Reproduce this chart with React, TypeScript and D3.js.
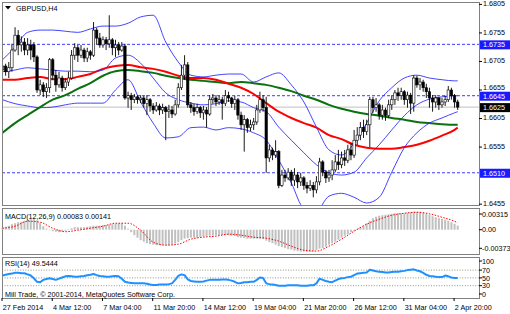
import React from 'react';
import * as d3 from 'd3';

// GBPUSD H4 bars, 27 Feb .. 3 Apr 2014
const barOpen = [
  1.6690, 1.6697, 1.6687, 1.6694, 1.6725, 1.6751, 1.6734, 1.6739, 1.6725, 1.6734,
  1.6734, 1.6713, 1.6655, 1.6664, 1.6652, 1.6659, 1.6708, 1.6681, 1.6664, 1.6676,
  1.6659, 1.6669, 1.6676, 1.6716, 1.6729, 1.6716, 1.6725, 1.6711, 1.6722, 1.6716,
  1.6760, 1.6746, 1.6734, 1.6743, 1.6736, 1.6743, 1.6729, 1.6734, 1.6725, 1.6732,
  1.6641, 1.6645, 1.6638, 1.6643, 1.6638, 1.6641, 1.6631, 1.6638, 1.6627, 1.6620,
  1.6627, 1.6620, 1.6624, 1.6617, 1.6620, 1.6613, 1.6629, 1.6659, 1.6681, 1.6699,
  1.6629, 1.6624, 1.6617, 1.6624, 1.6615, 1.6620, 1.6613, 1.6638, 1.6641, 1.6634,
  1.6638, 1.6631, 1.6645, 1.6641, 1.6631, 1.6638, 1.6611, 1.6594, 1.6603, 1.6589,
  1.6594, 1.6599, 1.6620, 1.6638, 1.6624, 1.6536, 1.6550, 1.6541, 1.6547, 1.6488,
  1.6506, 1.6501, 1.6511, 1.6497, 1.6506, 1.6494, 1.6501, 1.6488, 1.6483, 1.6488,
  1.6480, 1.6494, 1.6529, 1.6511, 1.6501, 1.6506, 1.6515, 1.6529, 1.6524, 1.6536,
  1.6532, 1.6550, 1.6541, 1.6567, 1.6576, 1.6589, 1.6582, 1.6594, 1.6638, 1.6624,
  1.6629, 1.6611, 1.6620, 1.6610, 1.6629, 1.6638, 1.6650, 1.6645, 1.6652, 1.6638,
  1.6646, 1.6632, 1.6676, 1.6664, 1.6669, 1.6659, 1.6652, 1.6641, 1.6634, 1.6641,
  1.6629, 1.6634, 1.6638, 1.6655, 1.6645, 1.6634,
];
const barHigh = [
  1.6704, 1.6701, 1.6704, 1.6736, 1.6765, 1.6760, 1.6749, 1.6746, 1.6746, 1.6743,
  1.6739, 1.6716, 1.6673, 1.6669, 1.6667, 1.6711, 1.6711, 1.6690, 1.6687, 1.6680,
  1.6676, 1.6687, 1.6725, 1.6737, 1.6734, 1.6734, 1.6729, 1.6729, 1.6725, 1.6774,
  1.6764, 1.6755, 1.6749, 1.6748, 1.6786, 1.6746, 1.6743, 1.6739, 1.6739, 1.6736,
  1.6652, 1.6650, 1.6648, 1.6646, 1.6646, 1.6645, 1.6646, 1.6641, 1.6632, 1.6634,
  1.6631, 1.6631, 1.6627, 1.6629, 1.6627, 1.6638, 1.6667, 1.6699, 1.6716, 1.6704,
  1.6634, 1.6631, 1.6631, 1.6627, 1.6627, 1.6625, 1.6646, 1.6648, 1.6646, 1.6645,
  1.6643, 1.6655, 1.6652, 1.6643, 1.6645, 1.6641, 1.6617, 1.6611, 1.6606, 1.6603,
  1.6606, 1.6629, 1.6652, 1.6646, 1.6643, 1.6559, 1.6554, 1.6567, 1.6550, 1.6515,
  1.6515, 1.6518, 1.6515, 1.6518, 1.6511, 1.6510, 1.6504, 1.6494, 1.6497, 1.6494,
  1.6504, 1.6536, 1.6532, 1.6515, 1.6515, 1.6532, 1.6541, 1.6550, 1.6547, 1.6550,
  1.6559, 1.6562, 1.6585, 1.6590, 1.6599, 1.6603, 1.6603, 1.6643, 1.6643, 1.6641,
  1.6632, 1.6629, 1.6624, 1.6638, 1.6646, 1.6655, 1.6659, 1.6659, 1.6655, 1.6652,
  1.6650, 1.6681, 1.6680, 1.6676, 1.6673, 1.6666, 1.6659, 1.6646, 1.6646, 1.6643,
  1.6641, 1.6645, 1.6662, 1.6659, 1.6648, 1.6638,
];
const barLow = [
  1.6683, 1.6680, 1.6676, 1.6687, 1.6722, 1.6716, 1.6722, 1.6716, 1.6716, 1.6708,
  1.6704, 1.6650, 1.6646, 1.6643, 1.6641, 1.6650, 1.6673, 1.6652, 1.6659, 1.6652,
  1.6655, 1.6662, 1.6673, 1.6708, 1.6704, 1.6711, 1.6704, 1.6704, 1.6708, 1.6713,
  1.6734, 1.6729, 1.6729, 1.6725, 1.6729, 1.6716, 1.6713, 1.6716, 1.6722, 1.6638,
  1.6624, 1.6620, 1.6632, 1.6631, 1.6632, 1.6624, 1.6611, 1.6617, 1.6613, 1.6617,
  1.6611, 1.6613, 1.6567, 1.6606, 1.6606, 1.6610, 1.6624, 1.6655, 1.6673, 1.6624,
  1.6615, 1.6610, 1.6613, 1.6606, 1.6603, 1.6589, 1.6610, 1.6631, 1.6627, 1.6629,
  1.6603, 1.6627, 1.6634, 1.6624, 1.6620, 1.6603, 1.6585, 1.6547, 1.6580, 1.6583,
  1.6585, 1.6594, 1.6615, 1.6617, 1.6510, 1.6529, 1.6532, 1.6536, 1.6483, 1.6485,
  1.6494, 1.6497, 1.6487, 1.6487, 1.6483, 1.6487, 1.6480, 1.6474, 1.6478, 1.6467,
  1.6474, 1.6488, 1.6504, 1.6492, 1.6494, 1.6497, 1.6511, 1.6515, 1.6518, 1.6522,
  1.6527, 1.6532, 1.6536, 1.6559, 1.6567, 1.6571, 1.6576, 1.6555, 1.6615, 1.6617,
  1.6603, 1.6603, 1.6601, 1.6606, 1.6620, 1.6629, 1.6636, 1.6638, 1.6629, 1.6624,
  1.6613, 1.6617, 1.6659, 1.6655, 1.6652, 1.6641, 1.6624, 1.6617, 1.6624, 1.6620,
  1.6624, 1.6627, 1.6634, 1.6638, 1.6624, 1.6620,
];
const barClose = [
  1.6697, 1.6687, 1.6694, 1.6725, 1.6751, 1.6734, 1.6739, 1.6725, 1.6734, 1.6725,
  1.6713, 1.6655, 1.6664, 1.6652, 1.6659, 1.6708, 1.6681, 1.6664, 1.6676, 1.6659,
  1.6669, 1.6676, 1.6716, 1.6729, 1.6716, 1.6725, 1.6711, 1.6722, 1.6716, 1.6760,
  1.6746, 1.6734, 1.6743, 1.6736, 1.6743, 1.6729, 1.6734, 1.6725, 1.6732, 1.6641,
  1.6645, 1.6638, 1.6643, 1.6638, 1.6641, 1.6631, 1.6638, 1.6627, 1.6620, 1.6627,
  1.6620, 1.6624, 1.6617, 1.6620, 1.6613, 1.6629, 1.6659, 1.6681, 1.6699, 1.6629,
  1.6624, 1.6617, 1.6624, 1.6615, 1.6620, 1.6613, 1.6638, 1.6641, 1.6634, 1.6638,
  1.6631, 1.6645, 1.6641, 1.6631, 1.6638, 1.6611, 1.6594, 1.6603, 1.6589, 1.6594,
  1.6599, 1.6620, 1.6638, 1.6624, 1.6536, 1.6550, 1.6541, 1.6547, 1.6488, 1.6506,
  1.6501, 1.6511, 1.6497, 1.6506, 1.6494, 1.6501, 1.6488, 1.6483, 1.6488, 1.6480,
  1.6494, 1.6529, 1.6511, 1.6501, 1.6506, 1.6515, 1.6529, 1.6524, 1.6536, 1.6532,
  1.6550, 1.6541, 1.6567, 1.6576, 1.6589, 1.6582, 1.6594, 1.6638, 1.6624, 1.6629,
  1.6611, 1.6620, 1.6610, 1.6629, 1.6638, 1.6650, 1.6645, 1.6652, 1.6638, 1.6646,
  1.6632, 1.6676, 1.6664, 1.6669, 1.6659, 1.6652, 1.6641, 1.6634, 1.6641, 1.6629,
  1.6634, 1.6638, 1.6655, 1.6645, 1.6634, 1.6625,
];

// indicator lines, read every 4th bar
const lineIdx = [
  0, 4, 8, 12, 16, 20, 24, 28, 32, 36, 40, 44, 48, 52, 56, 60, 64, 68, 72,
  76, 80, 84, 88, 92, 96, 100, 104, 108, 112, 116, 120, 124, 128, 132, 136, 140, 144, 145,
];
const bbUpper = [
  1.6708, 1.6730, 1.6756, 1.6760, 1.6760, 1.6758, 1.6756, 1.6762, 1.6767, 1.6767,
  1.6772, 1.6783, 1.6786, 1.6739, 1.6704, 1.6681, 1.6678, 1.6681, 1.6683, 1.6683,
  1.6669, 1.6678, 1.6685, 1.6664, 1.6634, 1.6590, 1.6550, 1.6541, 1.6562, 1.6597,
  1.6636, 1.6659, 1.6676, 1.6681, 1.6676, 1.6673, 1.6671, 1.6671,
];
const bbMiddle = [
  1.6687, 1.6690, 1.6694, 1.6692, 1.6690, 1.6688, 1.6688, 1.6687, 1.6690, 1.6711,
  1.6716, 1.6702, 1.6676, 1.6650, 1.6638, 1.6632, 1.6629, 1.6631, 1.6636, 1.6634,
  1.6624, 1.6617, 1.6590, 1.6567, 1.6545, 1.6524, 1.6510, 1.6506, 1.6511, 1.6536,
  1.6559, 1.6585, 1.6610, 1.6629, 1.6639, 1.6643, 1.6645, 1.6645,
];
const bbLower = [
  1.6638, 1.6631, 1.6627, 1.6624, 1.6625, 1.6629, 1.6632, 1.6632, 1.6632, 1.6655,
  1.6673, 1.6634, 1.6597, 1.6571, 1.6573, 1.6589, 1.6590, 1.6585, 1.6589, 1.6587,
  1.6580, 1.6567, 1.6532, 1.6492, 1.6448, 1.6444, 1.6469, 1.6474, 1.6467, 1.6457,
  1.6467, 1.6511, 1.6554, 1.6580, 1.6597, 1.6606, 1.6615, 1.6617,
];
const maRed = [
  1.6673, 1.6673, 1.6676, 1.6678, 1.6674, 1.6674, 1.6678, 1.6683, 1.6692, 1.6697,
  1.6699, 1.6695, 1.6692, 1.6687, 1.6680, 1.6676, 1.6676, 1.6673, 1.6666, 1.6659,
  1.6648, 1.6632, 1.6617, 1.6606, 1.6597, 1.6589, 1.6576, 1.6569, 1.6559, 1.6554,
  1.6552, 1.6552, 1.6555, 1.6559, 1.6566, 1.6575, 1.6585, 1.6589,
];
const maGreen = [
  1.6580, 1.6597, 1.6611, 1.6625, 1.6638, 1.6646, 1.6657, 1.6667, 1.6680, 1.6688,
  1.6690, 1.6688, 1.6685, 1.6680, 1.6676, 1.6673, 1.6671, 1.6669, 1.6667, 1.6669,
  1.6667, 1.6664, 1.6659, 1.6653, 1.6645, 1.6638, 1.6629, 1.6622, 1.6617, 1.6613,
  1.6610, 1.6606, 1.6603, 1.6599, 1.6597, 1.6595, 1.6594, 1.6594,
];

// MACD(12,26,9): main per bar, signal every 4th bar
const macdMain = [
  0.0004, 0.0006, 0.0008, 0.0011, 0.0013, 0.0015, 0.0016, 0.0018, 0.0019, 0.0021,
  0.0023, 0.0019, 0.0013, 0.0007, 0.0002, -0.0001, -0.0003, -0.0004, -0.0005, -0.0004,
  -0.0002, 0.0001, 0.0003, 0.0005, 0.0005, 0.0005, 0.0005, 0.0006, 0.0007, 0.0008,
  0.0008, 0.0008, 0.0009, 0.0009, 0.0010, 0.0011, 0.0012, 0.0013, 0.0013, 0.0008,
  0.0002, -0.0005, -0.0011, -0.0016, -0.0021, -0.0024, -0.0027, -0.0029, -0.0030, -0.0031,
  -0.0031, -0.0031, -0.0031, -0.0031, -0.0030, -0.0028, -0.0025, -0.0021, -0.0018, -0.0017,
  -0.0016, -0.0016, -0.0016, -0.0015, -0.0014, -0.0013, -0.0012, -0.0012, -0.0011, -0.0011,
  -0.0011, -0.0011, -0.0011, -0.0012, -0.0013, -0.0015, -0.0016, -0.0017, -0.0018, -0.0018,
  -0.0018, -0.0018, -0.0018, -0.0019, -0.0022, -0.0025, -0.0027, -0.0030, -0.0033, -0.0035,
  -0.0037, -0.0039, -0.0040, -0.0042, -0.0043, -0.0044, -0.0044, -0.0044, -0.0044, -0.0043,
  -0.0041, -0.0038, -0.0037, -0.0034, -0.0030, -0.0027, -0.0024, -0.0020, -0.0016, -0.0012,
  -0.0009, -0.0005, -0.0002, 0.0002, 0.0005, 0.0008, 0.0013, 0.0018, 0.0023, 0.0026,
  0.0028, 0.0029, 0.0030, 0.0031, 0.0032, 0.0033, 0.0033, 0.0033, 0.0033, 0.0034,
  0.0035, 0.0036, 0.0036, 0.0036, 0.0034, 0.0032, 0.0030, 0.0027, 0.0025, 0.0023,
  0.0022, 0.0020, 0.0018, 0.0015, 0.0012, 0.00083,
];
const macdSignal = [
  0.0003, 0.0007, 0.0017, 0.0015, 0.0003, -0.0004, -0.0001, 0.0003, 0.0007, 0.0013,
  0.0013, -0.0001, -0.0025, -0.0031, -0.0029, -0.0019, -0.0015, -0.0013, -0.0009, -0.0011,
  -0.0015, -0.0017, -0.0023, -0.0033, -0.0041, -0.0043, -0.0033, -0.0019, -0.0003, 0.0011,
  0.0021, 0.0029, 0.0033, 0.0035, 0.0032, 0.0025, 0.0017, 0.00141,
];

// RSI(14) per bar
const rsiValues = [
  56, 58, 60, 61, 63, 63, 62, 62, 59, 56,
  49, 40, 39, 45, 47, 49, 47, 45, 48, 51,
  54, 55, 54, 53, 53, 54, 55, 57, 58, 60,
  57, 55, 54, 53, 53, 54, 55, 54, 48, 40,
  38, 37, 36, 36, 36, 36, 35, 33, 32, 32,
  33, 33, 33, 34, 36, 45, 55, 59, 57, 46,
  42, 41, 40, 40, 41, 43, 45, 45, 45, 45,
  46, 46, 45, 43, 40, 36, 37, 39, 39, 40,
  40, 45, 51, 50, 36, 34, 33, 32, 30, 30,
  30, 31, 31, 31, 31, 30, 30, 30, 31, 31,
  36, 48, 45, 42, 40, 39, 43, 47, 49, 50,
  52, 53, 57, 61, 62, 63, 64, 71, 69, 67,
  66, 65, 64, 64, 65, 66, 66, 67, 68, 70,
  71, 72, 69, 67, 63, 58, 55, 54, 53, 52,
  52, 56, 54, 51, 50, 49.5444,
];

// 1.6505 is hidden behind the 1.6510 level box in the picture
const priceTicks = [1.6805, 1.6755, 1.6705, 1.6655, 1.6605, 1.6555, 1.6455];
const levelLines = [1.6735, 1.6645, 1.6510];
const macdTicks = [0.00315, 0, -0.00373];
const macdTickLabels = ['0.00315', '0.00', '-0.00373'];
const rsiTicks = [100, 70, 50, 30, 0];
const rsiLevels = [70, 50, 30];
const timeBars = [0, 16, 32, 48, 64, 80, 96, 112, 128, 144];
const timeLabels = [
  '27 Feb 2014', '4 Mar 12:00', '7 Mar 04:00', '11 Mar 20:00', '14 Mar 12:00',
  '19 Mar 04:00', '21 Mar 20:00', '26 Mar 12:00', '31 Mar 04:00', '2 Apr 20:00',
];

const W = 510;
const H = 314;
const FONT = "'Liberation Sans', Arial, sans-serif";
const FS = 7.2;

const plot = { left: 2, right: 479 };
const mainPane = { top: 2, bottom: 205 };
const macdPane = { top: 208, bottom: 254 };
const rsiPane = { top: 257, bottom: 298 };
const frame = '#808080';

export default function App() {
  const last = barClose.length - 1;
  const x = d3.scaleLinear().domain([0, last]).range([2.5, 457.7]);
  const y = d3.scaleLinear().domain([1.64535, 1.68092]).range([mainPane.bottom, mainPane.top]);
  const yMacd = d3.scaleLinear().domain([-0.00373, 0.00315]).range([248.3, 214]);
  const yRsi = d3.scaleLinear().domain([0, 100]).range([297.4, 258.4]);

  const smooth = (vals: number[], sy: (v: number) => number) =>
    d3.line<number>()
      .x((_, i) => x(lineIdx[i]))
      .y(v => sy(v))
      .curve(d3.curveMonotoneX)(vals) || '';

  const rsiPath = d3.line<number>()
    .x((_, i) => x(i))
    .y(v => yRsi(v))(rsiValues) || '';

  const fmt4 = d3.format('.4f');
  const bid = barClose[last];
  const boxes = [...levelLines, bid];

  // a tick label sitting just above a price box is lifted clear of it
  const tickBaseline = (v: number) => {
    let base = y(v) + 1.8;
    boxes.forEach(b => {
      const top = y(b) - 4;
      if (y(v) < y(b) && y(b) - y(v) < 9) base = Math.min(base, top - 2);
    });
    return base;
  };

  const paneRect = (p: { top: number; bottom: number }, key: string) => (
    <rect key={key} x={plot.left + 0.5} y={p.top + 0.5} width={plot.right - plot.left}
      height={p.bottom - p.top} fill="#fff" stroke={frame} strokeWidth={1} />
  );

  const priceBox = (v: number, bg: string, key: string) => (
    <g key={key}>
      <rect x={480} y={y(v) - 4} width={30} height={9} fill={bg} />
      <text x={483} y={y(v) + 2.8} fill="#fff" fontSize={FS}>{fmt4(v)}</text>
    </g>
  );

  return (
    <svg width={W} height={H} viewBox={`0 0 ${W} ${H}`}
      style={{ position: 'absolute', left: 0, top: 0, background: '#fff' }}
      fontFamily={FONT}>
      <defs>
        <clipPath id="clipMain">
          <rect x={plot.left + 1} y={mainPane.top + 1} width={plot.right - plot.left - 1}
            height={mainPane.bottom - mainPane.top - 1} />
        </clipPath>
      </defs>

      {paneRect(mainPane, 'pm')}
      {paneRect(macdPane, 'pmacd')}
      {paneRect(rsiPane, 'prsi')}

      {/* main pane */}
      <g clipPath="url(#clipMain)">
        {levelLines.map(v => (
          <line key={v} x1={plot.left} x2={plot.right} y1={y(v)} y2={y(v)}
            stroke="#3b3bff" strokeWidth={1} strokeDasharray="3,2" />
        ))}
        <line x1={plot.left} x2={plot.right} y1={y(bid)} y2={y(bid)} stroke="#c0c0c0" strokeWidth={1} />

        <path d={smooth(maGreen, y)} fill="none" stroke="#0a7010" strokeWidth={2} />
        <path d={smooth(maRed, y)} fill="none" stroke="#ff0000" strokeWidth={2} />
        <path d={smooth(bbUpper, y)} fill="none" stroke="#3030ff" strokeWidth={0.9} />
        <path d={smooth(bbMiddle, y)} fill="none" stroke="#3030ff" strokeWidth={0.9} />
        <path d={smooth(bbLower, y)} fill="none" stroke="#3030ff" strokeWidth={0.9} />

        {barClose.map((c, i) => {
          const o = barOpen[i];
          const hi = Math.max(barHigh[i], o, c);
          const lo = Math.min(barLow[i], o, c);
          const top = y(Math.max(o, c));
          const h = Math.max(0.8, Math.abs(y(o) - y(c)));
          const bull = c >= o;
          return (
            <g key={i}>
              <line x1={x(i)} x2={x(i)} y1={y(hi)} y2={y(lo)} stroke="#000" strokeWidth={0.9} />
              <rect x={x(i) - 1.2} y={top} width={2.4} height={h}
                fill={bull ? '#fff' : '#000'} stroke="#000" strokeWidth={0.6} />
            </g>
          );
        })}
      </g>

      <text x={16} y={10.5} fontSize={FS} fill="#000">GBPUSD,H4</text>
      <path d="M5,6 L11,6 L8,9.5 Z" fill="#000" />

      {/* MACD pane */}
      {macdMain.map((v, i) => (
        <rect key={i} x={x(i) - 1} width={2}
          y={Math.min(yMacd(v), yMacd(0))} height={Math.max(0.5, Math.abs(yMacd(v) - yMacd(0)))}
          fill="#c0c0c0" />
      ))}
      <path d={smooth(macdSignal, yMacd)} fill="none" stroke="#ff0000" strokeWidth={1} strokeDasharray="1.5,1.5" />
      <text x={5} y={218.5} fontSize={FS} fill="#000">
        {`MACD(12,26,9) ${macdMain[last].toFixed(5)} ${macdSignal[macdSignal.length - 1].toFixed(5)}`}
      </text>

      {/* RSI pane */}
      {rsiLevels.map(v => (
        <line key={v} x1={plot.left} x2={plot.right} y1={yRsi(v)} y2={yRsi(v)}
          stroke="#8a8a70" strokeWidth={0.9} strokeDasharray="1,1.6" />
      ))}
      <path d={rsiPath} fill="none" stroke="#1e90ff" strokeWidth={2} strokeLinejoin="round" />
      <text x={5} y={266} fontSize={FS} fill="#000">{`RSI(14) ${rsiValues[last].toFixed(4)}`}</text>
      <text x={5} y={296.5} fontSize={FS} fill="#000">Mill Trade, © 2001-2014, MetaQuotes Software Corp.</text>

      {/* price axis */}
      {priceTicks.map(v => (
        <g key={v}>
          <line x1={plot.right} x2={plot.right + 3} y1={y(v)} y2={y(v)} stroke="#000" strokeWidth={1} />
          <text x={483} y={tickBaseline(v)} fontSize={FS} fill="#000">{fmt4(v)}</text>
        </g>
      ))}
      {levelLines.map(v => priceBox(v, '#1a1aff', `lb${v}`))}
      {priceBox(bid, '#000', 'bid')}

      {macdTicks.map((v, i) => (
        <g key={v}>
          <line x1={plot.right} x2={plot.right + 3} y1={yMacd(v)} y2={yMacd(v)} stroke="#000" />
          <text x={482} y={yMacd(v) + 2.6} fontSize={FS} fill="#000">{macdTickLabels[i]}</text>
        </g>
      ))}
      {rsiTicks.map(v => {
        const ty = Math.min(Math.max(yRsi(v), rsiPane.top + 4), rsiPane.bottom - 4);
        return (
          <g key={v}>
            <line x1={plot.right} x2={plot.right + 3} y1={ty} y2={ty} stroke="#000" />
            <text x={482} y={ty + 2.6} fontSize={FS} fill="#000">{v}</text>
          </g>
        );
      })}

      {/* time axis */}
      {timeBars.map((b, i) => (
        <g key={b}>
          <line x1={x(b) - 0.5} x2={x(b) - 0.5} y1={rsiPane.bottom} y2={rsiPane.bottom + 3} stroke="#000" />
          <text x={x(b) + 0.3} y={309.5} fontSize={FS} fill="#000">{timeLabels[i]}</text>
        </g>
      ))}
    </svg>
  );
}
